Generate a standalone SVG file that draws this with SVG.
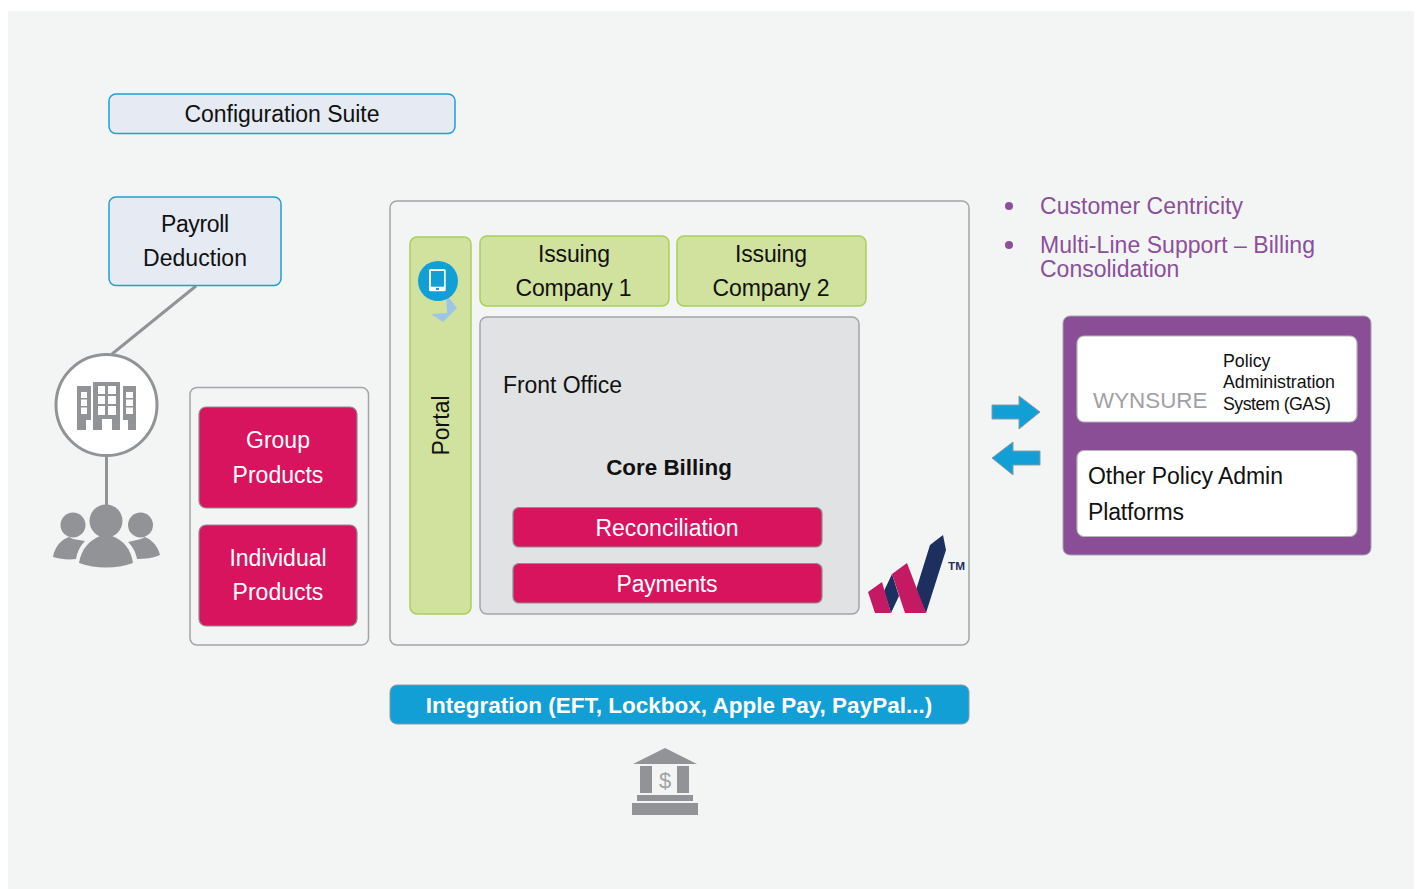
<svg xmlns="http://www.w3.org/2000/svg" width="1418" height="889" viewBox="0 0 1418 889">
<style>
text{font-family:"Liberation Sans",Arial,sans-serif;fill:#111;font-size:23px}
.c{text-anchor:middle}
.w{fill:#fff}
.pk{fill:#d8145f;stroke:#8d8d92;stroke-width:1.2}
.gn{fill:#d0e29e;stroke:#a9cf5c;stroke-width:1.5}
.bl{fill:#e5eaf3;stroke:#1ba1d6;stroke-width:1.5}
.fr{fill:#f3f5f4;stroke:#a3a5a8;stroke-width:1.5}
.ic{fill:#929396}
.ar{fill:#129fd5;stroke:#8d9aa3;stroke-width:1}
.pu{fill:#8c4f9b;font-size:23px}
.wb{fill:#fff;stroke:#b5b5b8;stroke-width:1.2}
.s{font-size:17.800px}
</style>
<rect width="1418" height="889" fill="#fff"/>
<rect x="8" y="11" width="1406" height="878" fill="#f3f5f4"/>
<g id="connectors" fill="none" stroke="#929396" stroke-width="3">
<path d="M196 286L112 354"/>
<path d="M106.500 456V505"/>
</g>
<g id="config"><rect class="bl" x="109" y="94" width="346" height="39.500" rx="7"/><text class="c" x="282" y="122" textLength="195">Configuration Suite</text></g>
<g id="payroll"><rect class="bl" x="109" y="197" width="172" height="88.500" rx="7"/><text class="c" x="195" y="232" textLength="68">Payroll</text><text class="c" x="195" y="266" textLength="104">Deduction</text></g>
<g id="employer">
<circle cx="106.500" cy="405" r="50.500" fill="#fff" stroke="#929396" stroke-width="3"/>
<path class="ic" fill-rule="evenodd" d="M77 386H91V420H86V430H77ZM81 392V398H87V392ZM81 399.500V406H87V399.500ZM81 407.500V414H87V407.500ZM93 382H120V430H112V419H102V430H93ZM98 386V394H105V386ZM108 386V394H116V386ZM98 396V404H105V396ZM108 396V404H116V396ZM98 406V415H105V406ZM108 406V415H116V406ZM123 386H136V430H128V420H123ZM126 392V398H133V392ZM126 399.500V406H133V399.500ZM126 407.500V414H133V407.500Z"/>
</g>
<g id="people">
<circle class="ic" cx="73" cy="525" r="12.500"/>
<path class="ic" d="M53 557C55 546 61 540 69 537L73 539L85 541C80 546 77 552 76 559C68 560 60 559 53 557Z"/>
<circle class="ic" cx="140.500" cy="525" r="12.500"/>
<path class="ic" d="M160 555C158 546 152 540 145 537L141 539L128 542C132 546 136 552 137 559C145 559 153 558 160 555Z"/>
<circle class="ic" cx="106" cy="521" r="16.500"/>
<path class="ic" d="M79 563C81 549 90 540 100 536H112C123 540 131 549 133 563C116 569 96 569 79 563Z"/>
</g>
<g id="products-frame"><rect class="fr" x="190" y="387.500" width="178.500" height="257.500" rx="7"/></g>
<g id="group-products"><rect class="pk" x="199" y="407" width="158" height="101" rx="7"/><text class="c w" x="278" y="448">Group</text><text class="c w" x="278" y="483">Products</text></g>
<g id="individual-products"><rect class="pk" x="199" y="525" width="158" height="101" rx="7"/><text class="c w" x="278" y="566">Individual</text><text class="c w" x="278" y="600">Products</text></g>
<g id="main-frame"><rect class="fr" x="390" y="201" width="579" height="444" rx="7"/></g>
<g id="portal">
<rect class="gn" x="410" y="237" width="61" height="377" rx="7"/>
<text class="c" transform="translate(449 425.500) rotate(-90)">Portal</text>
<path fill="#9dc6e6" d="M446 294L457 308L443 322L431 314L447 313Z"/>
<circle cx="438" cy="281" r="20" fill="#129fd5"/>
<rect x="429" y="269" width="16.700" height="22.300" fill="#fff" rx="1.500"/>
<rect x="431" y="271" width="13" height="15.700" fill="#129fd5"/>
<rect x="436" y="288" width="3" height="2" fill="#129fd5"/>
</g>
<g id="issuing-1"><rect class="gn" x="480" y="236" width="189" height="70" rx="7"/><text class="c" x="574" y="262" textLength="72">Issuing</text><text class="c" x="573.500" y="296" textLength="116">Company 1</text></g>
<g id="issuing-2"><rect class="gn" x="677" y="236" width="189" height="70" rx="7"/><text class="c" x="771" y="262" textLength="72">Issuing</text><text class="c" x="771" y="296" textLength="117">Company 2</text></g>
<g id="front-office"><rect x="480" y="317" width="379" height="297" rx="7" fill="#e1e2e4" stroke="#a3a5a8" stroke-width="1.500"/><text x="503" y="393" textLength="119">Front Office</text><text class="c" x="669" y="474.500" style="font-weight:700;font-size:22.400px">Core Billing</text></g>
<g id="reconciliation"><rect class="pk" x="513" y="507.500" width="309" height="39.500" rx="6"/><text class="c w" x="667" y="535.500">Reconciliation</text></g>
<g id="payments"><rect class="pk" x="513" y="563.500" width="309" height="39.500" rx="6"/><text class="c w" x="667" y="591.500" textLength="101">Payments</text></g>
<g id="logo">
<path fill="#1c2f5f" d="M892 574L899 596L891 613L884 591ZM916 590L930 545L943 535L946 550L926 613Z"/>
<path fill="#c41a63" d="M868 592L882 582L891 613H875ZM892 574L907 563L926 613H905Z"/>
<text x="948" y="570" textLength="17" lengthAdjust="spacingAndGlyphs" style="font-size:10.500px;font-weight:700;fill:#1c2f5f">TM</text>
</g>
<g id="integration"><rect x="390" y="685" width="579" height="39" rx="7" fill="#129fd5" stroke="#8d9aa3" stroke-width="1"/><text class="c w" x="679" y="713" style="font-weight:700;font-size:22.500px">Integration (EFT, Lockbox, Apple Pay, PayPal...)</text></g>
<g id="bank">
<path class="ic" d="M665 748L697 764H633ZM640 766H652V793H640ZM677 766H689V793H677ZM637 795H693V801H637ZM632 803H698V815H632Z"/>
<text class="c" x="665" y="787.500" style="font-size:22px;fill:#a2a3a6">$</text>
</g>
<g id="benefits">
<circle cx="1009" cy="206" r="4" fill="#8c4f9b"/><text class="pu" x="1040" y="214" textLength="203">Customer Centricity</text>
<circle cx="1009" cy="245" r="4" fill="#8c4f9b"/><text class="pu" x="1040" y="253" textLength="275">Multi-Line Support – Billing</text><text class="pu" x="1040" y="277">Consolidation</text>
</g>
<g id="exchange-arrows">
<path class="ar" d="M992 405H1019V396L1040 412L1019 429V419H992Z"/>
<path class="ar" d="M1040 451H1013V442L992 458L1013 475V465H1040Z"/>
</g>
<g id="policy-frame"><rect x="1063" y="316" width="308" height="239" rx="7" fill="#8a4e97" stroke="#a3a5a8" stroke-width="1"/></g>
<g id="wynsure"><rect class="wb" x="1077" y="336" width="280" height="86" rx="7"/><text x="1093" y="408" style="fill:#a0a1a4;font-size:22.400px">WYNSURE</text><text class="s" x="1223" y="367">Policy</text><text class="s" x="1223" y="388" textLength="112">Administration</text><text class="s" x="1223" y="410" textLength="108">System (GAS)</text></g>
<g id="other-platforms"><rect class="wb" x="1077" y="450.500" width="280" height="86" rx="7"/><text x="1088" y="484" textLength="195">Other Policy Admin</text><text x="1088" y="519.500" textLength="96">Platforms</text></g>
</svg>
